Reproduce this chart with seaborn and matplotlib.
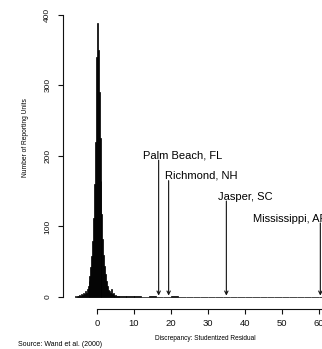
import numpy as np
import pandas as pd
import matplotlib
matplotlib.use("Agg")
import matplotlib.pyplot as plt
import seaborn as sns

# ---- data ----
# fine bins around the centre (width 0.25), left edges from -6
center_bin_width = 0.25
center_left = np.arange(-6.0, 6.0, center_bin_width)
center_counts = [1, 0, 2, 1, 2, 3, 2, 4, 3, 5, 4, 8, 6, 12, 16, 22,
                 30, 42, 58, 80, 112, 160, 220, 340, 388, 350, 290, 225,
                 165, 118, 82, 60, 44, 32, 22, 16, 10, 9, 6, 12, 4, 5,
                 3, 2, 3, 1, 2, 1]
# sparse tail (width 2) from 6 to 62
tail_bin_width = 2.0
tail_left = np.arange(6.0, 62.0, tail_bin_width)
tail_counts = [2, 1, 1, 0, 1, 0, 0, 1, 0, 0, 0, 0, 0, 0,
               0, 0, 0, 0, 0, 0, 0, 0, 0, 0, 0, 0, 0, 0]

outlier_names = ["Palm Beach, FL", "Richmond, NH", "Jasper, SC", "Mississippi, AR"]
outlier_x = [16.7, 19.4, 35.0, 60.4]
label_x = [12.4, 18.4, 32.7, 42.2]
label_y = [201, 172, 142, 111]
arrow_top = [194, 165, 136, 105]

x_ticks = [0, 10, 20, 30, 40, 50, 60]
y_ticks = [0, 100, 200, 300, 400]

# ---- figure ----
sns.set_style("ticks")
plt.rcParams["font.family"] = ["Liberation Sans", "DejaVu Sans"]

W, H = 322, 349
fig = plt.figure(figsize=(W / 100, H / 100), dpi=100)
ax = fig.add_axes([63 / W, 1 - 309 / H, 1 - 63 / W, (309 - 5) / H])

df = pd.DataFrame({
    "x": np.concatenate([center_left + center_bin_width / 2,
                         tail_left + tail_bin_width / 2]),
    "w": np.concatenate([center_counts, tail_counts]).astype(float),
})
edges = [float(e) for e in np.concatenate(
    [center_left, tail_left, [tail_left[-1] + tail_bin_width]])]
sns.histplot(data=df, x="x", weights="w", bins=edges, color="black",
             edgecolor="black", linewidth=0.5, alpha=1.0, ax=ax)

for name, xo, lx, ly, top in zip(outlier_names, outlier_x, label_x, label_y, arrow_top):
    ax.annotate("", xy=(xo, 2), xytext=(xo, top),
                arrowprops=dict(arrowstyle="->", lw=0.8, color="#111111",
                                mutation_scale=6, shrinkA=0, shrinkB=0))
    ax.text(lx, ly, name, fontsize=8.0, ha="left", va="center", color="black")

ax.set_xlim(-9.15, 60.85)
ax.set_ylim(-17.0, 414)
ax.set_xticks(x_ticks)
ax.set_yticks(y_ticks)
ax.set_yticklabels([str(v) for v in y_ticks], rotation=90, va="center")
ax.tick_params(axis="x", labelsize=6.8, length=3.5, width=0.8, pad=4, colors="#111111")
ax.tick_params(axis="y", labelsize=6.0, length=3.5, width=0.8, pad=5, colors="#111111")
sns.despine(ax=ax)
ax.spines["left"].set_bounds(0, 400)
ax.spines["bottom"].set_bounds(0, 62)
for s in ("left", "bottom"):
    ax.spines[s].set_linewidth(0.8)
    ax.spines[s].set_color("#111111")
ax.set_xlabel("")
ax.set_ylabel("")

fig.text(26 / W, 1 - 138 / H, "Number of Reporting Units", rotation=90,
         fontsize=4.8, ha="center", va="center", color="black")
fig.text(205 / W, 1 - 338 / H, "Discrepancy: Studentized Residual",
         fontsize=4.7, ha="center", va="center", color="black")
fig.text(18 / W, 1 - 344 / H, "Source: Wand et al. (2000)",
         fontsize=5.0, ha="left", va="center", color="black")

fig.savefig("out.png", dpi=100, facecolor="white")
